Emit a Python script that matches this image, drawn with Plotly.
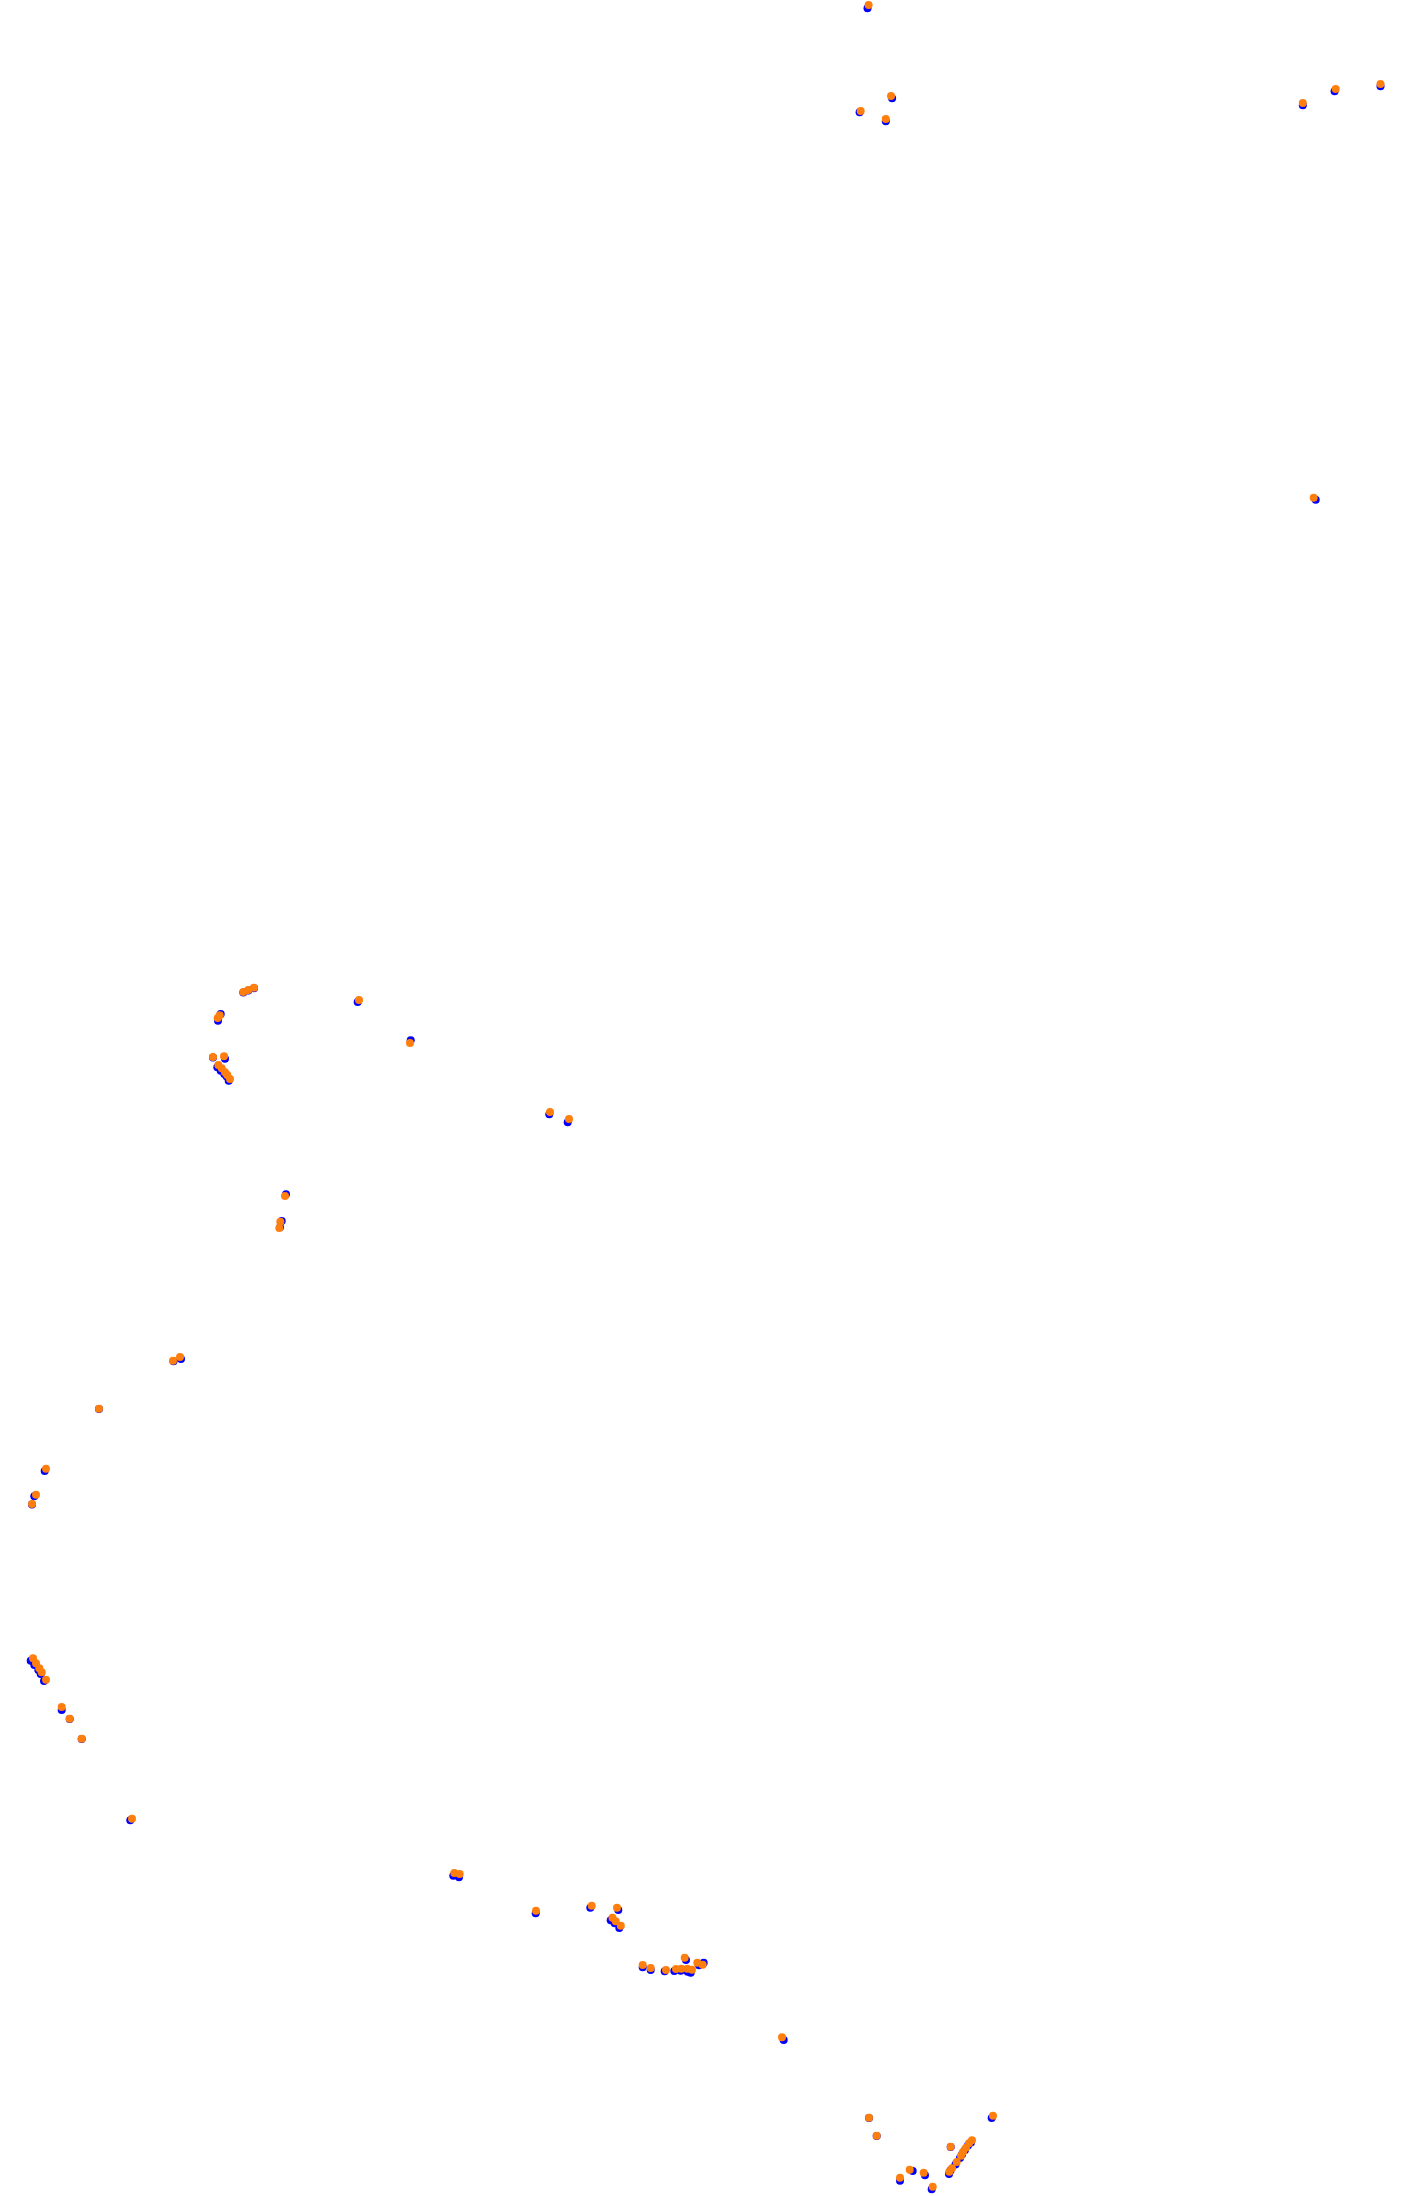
import plotly.graph_objects as go

# Track positions (x, y in track units; y grows downward)
blue_x = [867.5, 892.1, 859.6, 885.8, 1302.8, 1334.6, 1380.5, 1315.7,
          243.3, 248.3, 254.0, 218.0, 220.7, 357.7, 410.7, 213.0, 225.0,
          217.3, 220.7, 224.3, 226.7, 228.7, 549.3, 567.7, 286.0, 281.7,
          280.0, 181.0, 173.5, 99.0, 44.7, 34.3, 32.0, 30.7, 34.3, 38.3,
          40.7, 44.0, 61.7, 69.7, 81.7, 130.3, 453.3, 459.0, 535.7, 590.3,
          618.3, 610.7, 614.7, 619.3, 642.7, 650.7, 664.7, 674.3, 680.7,
          687.7, 690.7, 686.0, 703.7, 699.0, 783.7, 869.0, 876.7, 991.7,
          950.7, 971.0, 968.0, 965.0, 962.0, 960.0, 955.5, 950.5, 949.0,
          912.7, 925.0, 900.0, 931.7]
blue_y = [8.3, 98.3, 112.3, 121.3, 105.3, 91.3, 86.3, 499.7,
          992.5, 990.5, 988.2, 1020.7, 1014.0, 1002.0, 1040.3, 1057.5, 1058.7,
          1067.3, 1070.7, 1074.0, 1076.5, 1080.7, 1114.3, 1122.3, 1194.3, 1221.0,
          1227.3, 1359.0, 1361.3, 1409.0, 1471.0, 1496.3, 1504.5, 1660.7, 1665.0, 1670.0,
          1674.0, 1681.0, 1710.0, 1719.0, 1739.0, 1820.3, 1875.7, 1877.3, 1913.3, 1907.7,
          1910.0, 1920.3, 1923.3, 1928.0, 1967.3, 1970.0, 1971.3, 1971.0, 1970.7,
          1971.7, 1972.7, 1960.0, 1962.7, 1965.3, 2040.0, 2118.0, 2136.0, 2118.0,
          2147.0, 2142.5, 2145.5, 2150.0, 2154.5, 2158.0, 2164.5, 2170.5, 2174.0,
          2171.0, 2175.3, 2180.7, 2189.3]

orange_x = [868.6, 891.0, 860.7, 885.8, 1302.8, 1335.7, 1380.5, 1313.7,
            243.3, 248.3, 254.0, 217.7, 219.7, 359.0, 410.0, 213.0, 224.0,
            218.3, 221.7, 225.0, 227.3, 230.0, 550.0, 569.0, 285.0, 280.3,
            279.3, 180.0, 173.0, 99.0, 46.0, 36.0, 32.0, 33.0, 36.0, 39.3,
            41.7, 46.0, 61.7, 69.7, 81.7, 132.0, 454.3, 459.7, 536.0, 591.7,
            617.0, 612.5, 615.7, 620.8, 642.7, 650.7, 666.0, 676.0, 681.3,
            687.3, 692.0, 684.7, 697.3, 702.7, 782.0, 869.0, 876.7, 993.0,
            950.7, 972.0, 969.0, 966.0, 963.0, 961.0, 956.7, 952.0, 949.3,
            909.7, 923.7, 900.0, 932.7]
orange_y = [5.0, 96.0, 111.0, 119.0, 103.0, 89.0, 84.0, 497.7,
            992.0, 990.0, 987.7, 1018.0, 1015.3, 1000.0, 1043.0, 1057.0, 1056.3,
            1065.0, 1068.3, 1072.3, 1075.0, 1079.0, 1112.0, 1119.0, 1196.0, 1221.7,
            1228.0, 1357.0, 1360.7, 1408.7, 1468.7, 1494.7, 1504.0, 1658.3, 1663.3, 1668.3,
            1672.3, 1679.7, 1707.0, 1718.7, 1738.7, 1818.7, 1873.0, 1874.0, 1910.7, 1905.7,
            1907.7, 1917.7, 1921.2, 1925.8, 1965.0, 1968.0, 1970.0, 1969.0, 1968.7,
            1968.7, 1969.7, 1957.7, 1962.7, 1964.7, 2037.3, 2117.7, 2135.7, 2115.7,
            2146.7, 2140.3, 2143.3, 2147.7, 2152.0, 2155.7, 2162.0, 2168.3, 2171.7,
            2169.7, 2172.7, 2177.7, 2186.7]

fig = go.Figure()
fig.add_trace(go.Scatter(x=blue_x, y=blue_y, mode="markers",
                         marker=dict(size=8, color="#0000ff", line=dict(width=0)),
                         hoverinfo="skip"))
fig.add_trace(go.Scatter(x=orange_x, y=orange_y, mode="markers",
                         marker=dict(size=8, color="#ff7f0e", line=dict(width=0)),
                         hoverinfo="skip"))

fig.update_layout(
    width=1406, height=2196,
    margin=dict(l=0, r=0, t=0, b=0, pad=0),
    paper_bgcolor="white", plot_bgcolor="white",
    showlegend=False,
    xaxis=dict(range=[0, 1406], visible=False, fixedrange=True),
    yaxis=dict(range=[2196, 0], visible=False, fixedrange=True),
)

fig.write_html("out.html",
               config={"displayModeBar": False},
               post_script="document.body.style.margin='0';document.body.style.overflow='hidden';")
